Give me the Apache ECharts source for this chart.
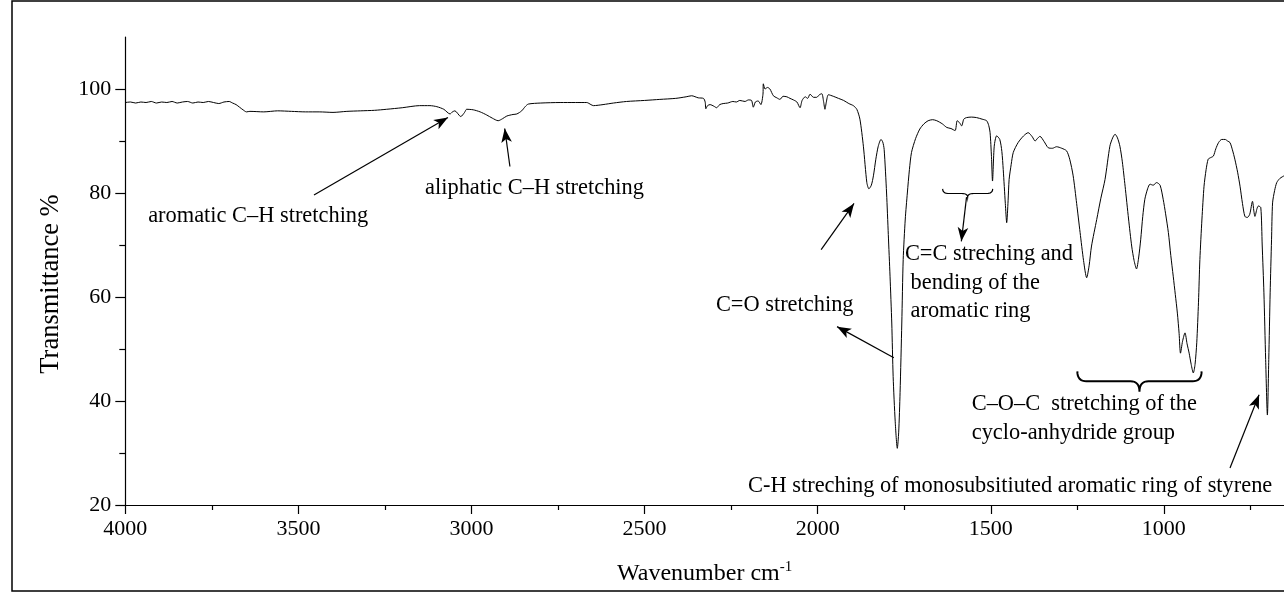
<!DOCTYPE html>
<html lang="en">
<head>
<meta charset="UTF-8">
<title>FTIR spectrum</title>
<script src="https://cdn.jsdelivr.net/npm/echarts@6/dist/echarts.min.js"></script>
<style>html, body { margin: 0; padding: 0; background: #fff; }</style>
</head>
<body>
<div id="main" style="width: 1284px; height: 592px;"></div>
<script>
// spectrum (cm-1, %T)
var wavenumber = [
  4000, 3985, 3970, 3955, 3940, 3925, 3910, 3895, 3880, 3865, 3850, 3835, 3820, 3805, 3790, 3775, 3760, 3745, 3730, 3715,
  3700, 3690, 3680, 3670, 3660, 3650, 3640, 3600, 3560, 3520, 3480, 3440, 3400, 3360, 3320, 3280, 3245, 3200, 3150, 3120,
  3100, 3080, 3062, 3055, 3048, 3031, 3020, 3014, 2995, 2975, 2956, 2940, 2923, 2910, 2898, 2880, 2869, 2855, 2845, 2836,
  2800, 2744, 2700, 2667, 2655, 2648, 2620, 2590, 2552, 2500, 2456, 2410, 2380, 2364, 2345, 2330, 2325, 2323, 2318, 2311,
  2300, 2292, 2283, 2273, 2260, 2245, 2235, 2225, 2210, 2200, 2191, 2186, 2180, 2172, 2164, 2158, 2157, 2152, 2145, 2138,
  2128, 2118, 2109, 2100, 2089, 2080, 2070, 2060, 2051, 2045, 2036, 2029, 2022, 2012, 2003, 1995, 1988, 1983, 1979, 1975,
  1969, 1955, 1940, 1925, 1910, 1897, 1887, 1878, 1868, 1858, 1852, 1845, 1839, 1832, 1825, 1817, 1812, 1808, 1801, 1796,
  1791, 1786, 1782, 1776, 1770, 1766, 1762, 1757, 1753, 1747, 1741, 1735, 1729, 1717, 1705, 1693, 1681, 1668, 1656, 1640,
  1627, 1615, 1603, 1597, 1590, 1584, 1578, 1570, 1556, 1541, 1525, 1512, 1506, 1502, 1498, 1495, 1490, 1483, 1474, 1468,
  1464, 1458, 1454, 1450, 1447, 1441, 1435, 1421, 1405, 1392, 1380, 1372, 1365, 1358, 1346, 1334, 1322, 1310, 1295, 1281,
  1272, 1262, 1252, 1242, 1232, 1223, 1216, 1209, 1194, 1182, 1170, 1156, 1148, 1141, 1134, 1127, 1120, 1112, 1102, 1093,
  1086, 1079, 1073, 1067, 1061, 1055, 1047, 1040, 1031, 1021, 1011, 1002, 995, 987, 980, 973, 967, 961, 956, 952,
  946, 939, 933, 927, 921, 915, 910, 905, 900, 896, 890, 884, 878, 872, 865, 857, 850, 842, 833, 823,
  816, 809, 802, 795, 787, 780, 773, 766, 759, 752, 744, 740, 737, 731, 727, 720, 716, 711, 706, 701,
  697, 693, 689, 686, 680, 674, 665, 653
];
var transmittance = [
  97.4, 97.5, 97.3, 97.5, 97.4, 97.6, 97.3, 97.5, 97.4, 97.6, 97.3, 97.5, 97.6, 97.3, 97.5, 97.4, 97.6, 97.4, 97.2, 97.5,
  97.6, 97.3, 97.0, 96.5, 96.0, 95.6, 95.7, 95.6, 95.8, 95.7, 95.6, 95.6, 95.5, 95.7, 95.8, 95.9, 96.1, 96.4, 96.8, 96.8,
  96.6, 96.1, 95.2, 95.6, 95.8, 94.7, 95.5, 96.1, 96.0, 95.6, 95.0, 94.4, 93.9, 94.3, 94.8, 95.1, 95.2, 95.8, 96.6, 97.1,
  97.3, 97.4, 97.4, 97.4, 97.0, 96.8, 97.0, 97.3, 97.6, 97.8, 98.0, 98.2, 98.5, 98.7, 98.3, 98.2, 97.5, 96.2, 96.8, 97.0,
  96.7, 96.4, 97.0, 97.2, 97.3, 97.6, 97.5, 97.8, 97.6, 97.9, 97.8, 96.5, 97.5, 97.7, 97.0, 99.0, 101.0, 100.0, 100.3, 100.0,
  98.7, 98.3, 98.0, 98.6, 98.5, 98.2, 97.9, 97.5, 96.4, 97.8, 98.5, 98.2, 99.0, 98.4, 98.4, 98.9, 99.1, 97.6, 96.1, 97.5,
  98.9, 98.6, 98.2, 97.8, 97.2, 96.8, 96.1, 94.2, 89.0, 82.0, 80.8, 81.5, 83.3, 86.5, 89.0, 90.3, 89.8, 88.4, 80.0, 72.0,
  64.0, 55.0, 44.7, 36.0, 30.9, 34.0, 41.6, 55.0, 67.2, 75.0, 80.0, 84.5, 87.8, 90.5, 92.3, 93.3, 93.9, 94.1, 93.9, 93.3,
  92.6, 92.4, 92.0, 93.9, 93.5, 92.9, 94.2, 94.5, 94.6, 94.5, 94.2, 93.9, 93.0, 91.6, 87.0, 82.3, 89.0, 91.0, 90.3, 88.0,
  84.5, 78.0, 74.3, 78.5, 82.6, 85.5, 87.8, 89.7, 91.0, 91.6, 90.8, 90.0, 90.5, 90.9, 89.9, 88.7, 88.6, 88.9, 88.6, 88.1,
  86.5, 83.3, 78.0, 72.4, 67.0, 63.7, 66.0, 69.8, 74.9, 79.0, 82.6, 89.0, 90.6, 91.3, 90.6, 89.0, 86.0, 81.3, 75.0, 69.8,
  67.0, 65.4, 67.5, 71.0, 75.5, 78.8, 80.8, 81.7, 81.5, 82.0, 81.5, 78.8, 76.0, 72.4, 68.0, 64.0, 60.5, 56.9, 53.0, 49.2,
  51.5, 53.1, 51.0, 49.2, 47.0, 45.4, 47.0, 51.2, 59.0, 67.2, 75.0, 81.3, 84.5, 86.5, 86.8, 87.1, 88.5, 89.7, 90.3, 90.3,
  90.0, 89.7, 88.3, 86.5, 84.0, 81.3, 78.0, 75.5, 75.3, 75.9, 78.4, 76.5, 75.5, 77.0, 77.5, 77.2, 70.0, 60.8, 48.0, 37.3,
  48.0, 60.8, 71.0, 78.1, 80.5, 82.0, 82.8, 83.3
];

var xTicks = [1000, 1500, 2000, 2500, 3000, 3500, 4000];
var xMinor = [750, 1250, 1750, 2250, 2750, 3250, 3750];
var yTicks = [20, 40, 60, 80, 100];
var yMinor = [30, 50, 70, 90];

// annotation arrows: [tail, head] in [cm-1, %T]
var arrows = [
  [[3455, 79.6], [3068, 94.5]],
  [[2889, 85.1], [2904, 92.4]],
  [[1990, 69.1], [1895, 78.0]],
  [[1780, 48.3], [1944, 54.3]],
  [[1570, 79.2], [1585, 70.7]],
  [[809, 27.1], [725, 41.2]]
];

var notes = [
  { text: 'aromatic C\u2013H stretching', at: [3934, 75.6], v: 'middle' },
  { text: 'aliphatic C\u2013H stretching', at: [3134, 81.0], v: 'middle' },
  { text: 'C=O stretching', at: [2294, 58.5], v: 'middle' },
  { text: 'C=C streching and\n bending of the\n aromatic ring', at: [1748, 70.9], v: 'top' },
  { text: 'C\u2013O\u2013C  stretching of the\ncyclo-anhydride group', at: [1555, 42.1], v: 'top' },
  { text: 'C-H streching of monosubsitiuted aromatic ring of styrene', at: [2201, 23.6], v: 'middle' }
];

var braces = [
  { from: 1639, to: 1494.5, top: 80.8, bottom: 79.9, tip: 79.2, width: 1.2, r: 6 },
  { from: 1250, to: 891, top: 45.7, bottom: 43.8, tip: 41.8, width: 2, r: 9 }
];

var serif = '"Liberation Serif", "Times New Roman", serif';

var chartDom = document.getElementById('main');
var myChart = echarts.init(chartDom);

var option = {
  animation: false,
  backgroundColor: '#fff',
  textStyle: { fontFamily: serif, color: '#000' },
  grid: { left: 125.3, top: 37, right: 0, bottom: 87 },
  xAxis: [
    {
      type: 'value',
      inverse: true,
      min: 653,
      max: 4000,
      name: 'Wavenumber cm{sup|-1}',
      nameLocation: 'middle',
      nameGap: 55,
      nameTextStyle: {
        fontFamily: serif, fontSize: 24, color: '#000',
        rich: { sup: { fontFamily: serif, fontSize: 15, color: '#000', padding: [0, 0, 12, 0] } }
      },
      axisLine: { lineStyle: { color: '#000', width: 1.2 } },
      axisTick: { customValues: xTicks, length: 9, lineStyle: { color: '#000', width: 1.2 } },
      axisLabel: {
        customValues: xTicks, fontFamily: serif, fontSize: 22, color: '#000', margin: 13,
        formatter: function (v) { return String(v); }
      },
      splitLine: { show: false }
    },
    {
      type: 'value',
      inverse: true,
      position: 'bottom',
      min: 653,
      max: 4000,
      axisLine: { show: false },
      axisTick: { customValues: xMinor, length: 5, lineStyle: { color: '#000', width: 1.2 } },
      axisLabel: { show: false },
      splitLine: { show: false }
    }
  ],
  yAxis: [
    {
      type: 'value',
      min: 20,
      max: 110,
      name: 'Transmittance %',
      nameLocation: 'middle',
      nameGap: 61,
      nameTextStyle: { fontFamily: serif, fontSize: 26.5, color: '#000', padding: [0, 26, 0, 0] },
      axisLine: { show: true, lineStyle: { color: '#000', width: 1.2 } },
      axisTick: { show: true, customValues: yTicks, length: 10, lineStyle: { color: '#000', width: 1.2 } },
      axisLabel: { customValues: yTicks, fontFamily: serif, fontSize: 22, color: '#000', margin: 14 },
      splitLine: { show: false }
    },
    {
      type: 'value',
      position: 'left',
      min: 20,
      max: 110,
      axisLine: { show: false },
      axisTick: { show: true, customValues: yMinor, length: 6, lineStyle: { color: '#000', width: 1.2 } },
      axisLabel: { show: false },
      splitLine: { show: false }
    }
  ],
  series: [
    {
      name: 'spectrum',
      type: 'line',
      xAxisIndex: 0,
      yAxisIndex: 0,
      data: wavenumber.map(function (w, i) { return [w, transmittance[i]]; }),
      showSymbol: false,
      symbol: 'none',
      smooth: 0.25,
      lineStyle: { color: '#000', width: 1 },
      silent: true,
      markLine: {
        silent: true,
        symbol: ['none', 'arrow'],
        symbolSize: [8, 14],
        label: { show: false },
        lineStyle: { color: '#000', width: 1.2, type: 'solid' },
        data: arrows.map(function (a) {
          return [{ coord: a[0] }, { coord: a[1] }];
        })
      }
    }
  ]
};

myChart.setOption(option);

function px(p) {
  return myChart.convertToPixel({ xAxisIndex: 0, yAxisIndex: 0 }, p);
}

function quad(p0, c, p1, out) {
  for (var t = 0; t <= 1.0001; t += 0.125) {
    var u = 1 - t;
    out.push([u * u * p0[0] + 2 * u * t * c[0] + t * t * p1[0],
              u * u * p0[1] + 2 * u * t * c[1] + t * t * p1[1]]);
  }
}

var elements = [];

// outer frame
elements.push({
  type: 'rect',
  shape: { x: 12, y: 1, width: 1300, height: 590 },
  style: { fill: 'none', stroke: '#000', lineWidth: 1.5 },
  silent: true
});

notes.forEach(function (n) {
  var p = px(n.at);
  elements.push({
    type: 'text',
    x: p[0],
    y: p[1],
    style: {
      text: n.text,
      font: '22.4px ' + serif,
      fill: '#000',
      textAlign: 'left',
      textVerticalAlign: n.v,
      lineHeight: 28.5
    },
    silent: true
  });
});

braces.forEach(function (b) {
  var a = px([b.from, b.top]);
  var z = px([b.to, b.top]);
  var yb = px([b.from, b.bottom])[1];
  var yt = px([b.from, b.tip])[1];
  var x1 = a[0], x2 = z[0], xm = (x1 + x2) / 2, r = b.r;
  var pts = [];
  quad([x1, a[1]], [x1, yb], [x1 + r, yb], pts);
  quad([xm - r, yb], [xm, yb], [xm, yt], pts);
  quad([xm, yt], [xm, yb], [xm + r, yb], pts);
  quad([x2 - r, yb], [x2, yb], [x2, a[1]], pts);
  elements.push({
    type: 'polyline',
    shape: { points: pts },
    style: { stroke: '#000', lineWidth: b.width, fill: 'none' },
    silent: true
  });
});

myChart.setOption({ graphic: { elements: elements } });
</script>
</body>
</html>
